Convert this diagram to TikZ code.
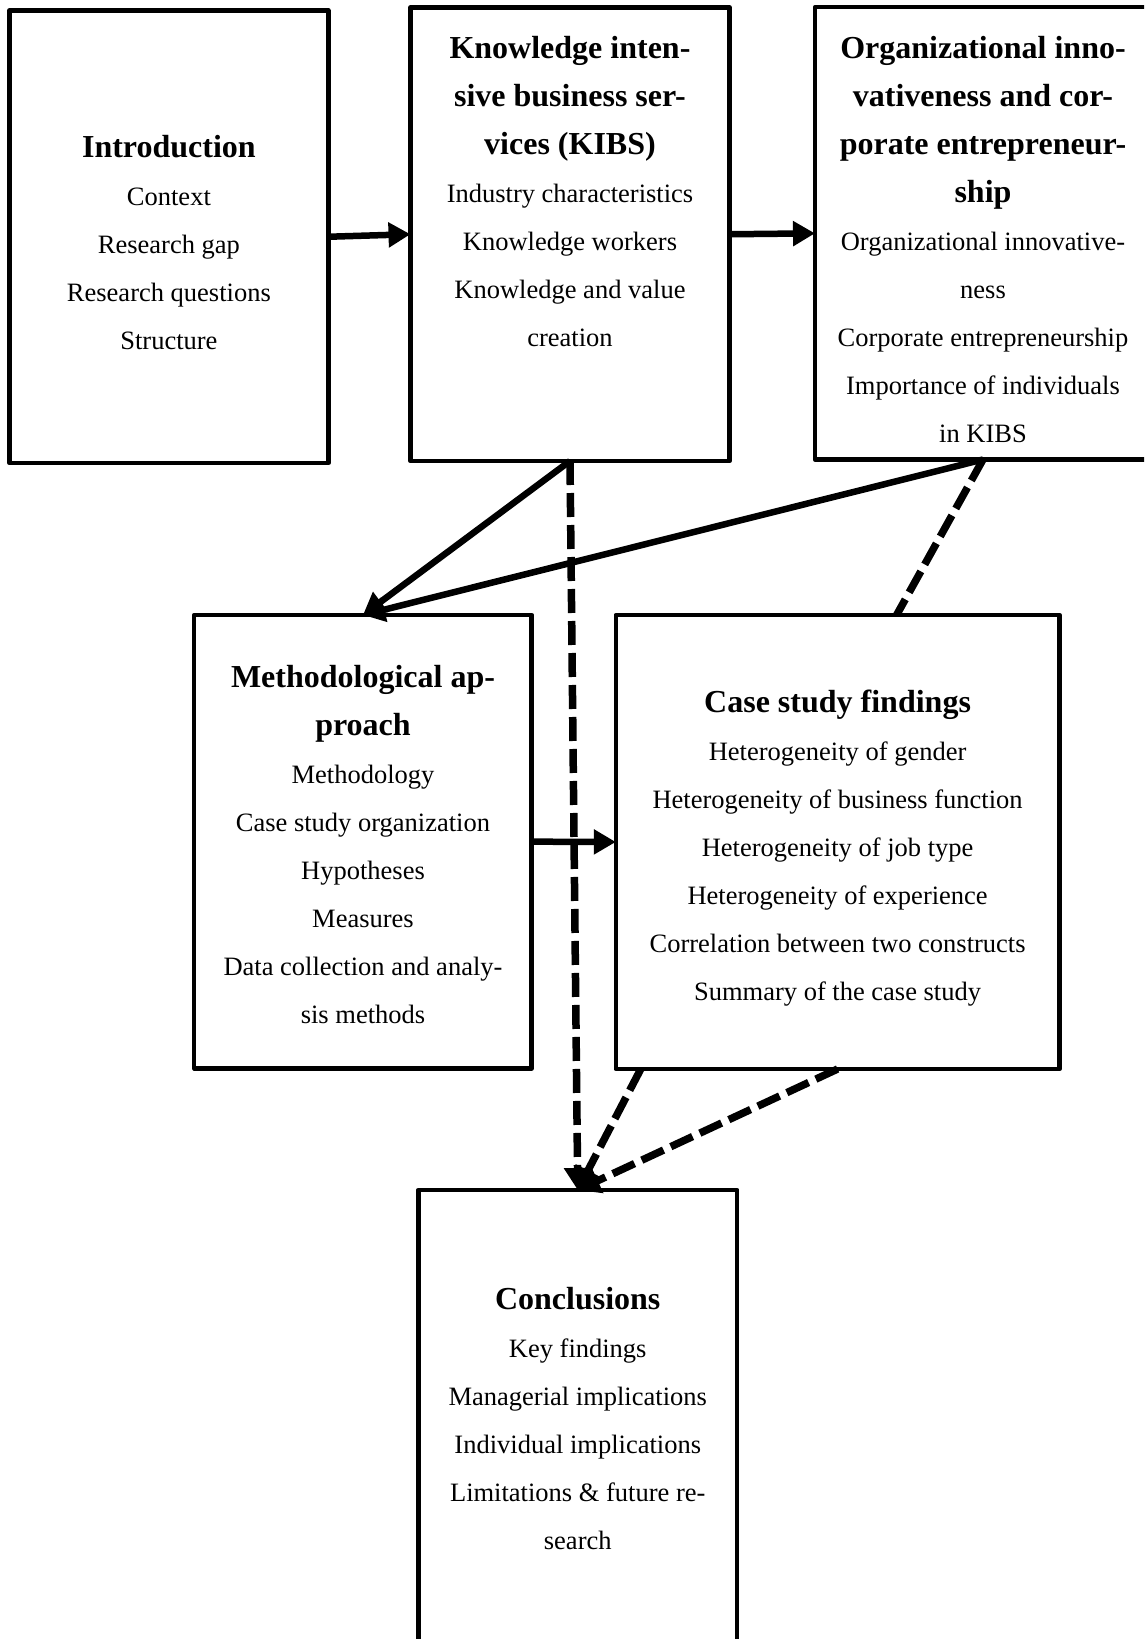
\documentclass[tikz,border=0pt]{standalone}
\usepackage{fontspec}
\setmainfont{Liberation Serif}
\usetikzlibrary{arrows.meta}
\newcommand{\chtitle}{\fontsize{32}{48}\selectfont\bfseries}
\newcommand{\chbody}{\fontsize{26.5}{48}\selectfont}
\newcommand{\chtext}[1]{\parbox[t]{440pt}{\centering\chbody #1}}
\tikzset{
  box/.style={draw, line width=4.5pt, line join=round, outer sep=0pt, inner sep=0pt, anchor=north west},
  txt/.style={anchor=base, inner sep=0pt, outer sep=0pt},
  flow/.style={line width=6.5pt, -{Triangle[length=22pt,width=24pt]}},
  dlink/.style={line width=7.5pt, dash pattern=on 24pt off 8pt},
  dflow/.style={dlink, -{Triangle[length=22pt,width=26pt]}},
}
\begin{document}
\begin{tikzpicture}[x=1pt,y=-1pt]
\path[use as bounding box, fill=white] (0,0) rectangle (1144,1639);
\clip (0,0) rectangle (1144,1639);

% chapter boxes
\node[box, minimum width=318.8pt, minimum height=452.5pt] (intro) at (9.5,10.5) {};
\node[box, minimum width=319pt,   minimum height=453.5pt] (kibs)  at (410.5,7.5) {};
\node[box, minimum width=336pt,   minimum height=452.3pt] (org)   at (815,7.2) {};
\node[box, minimum width=337.5pt, minimum height=453.3pt] (meth)  at (194.2,615) {};
\node[box, minimum width=443.6pt, minimum height=454pt]   (case)  at (615.8,615) {};
\node[box, minimum width=318.9pt, minimum height=520pt]   (concl) at (418.3,1190) {};

% chapter contents
\node[txt] (introtxt) at (168.9,157) {\chtext{{\chtitle Introduction\par}
  Context\\ Research gap\\ Research questions\\ Structure}};
\node[txt] (kibstxt) at (570,58) {\chtext{{\chtitle Knowledge inten-\\ sive business ser-\\ vices (KIBS)\par}
  Industry characteristics\\ Knowledge workers\\ Knowledge and value\\ creation}};
\node[txt] (orgtxt) at (983,58) {\chtext{{\chtitle Organizational inno-\\ vativeness and cor-\\ porate entrepreneur-\\ ship\par}
  Organizational innovative-\\ ness\\ Corporate entrepreneurship\\ Importance of individuals\\ in KIBS}};
\node[txt] (methtxt) at (363,687) {\chtext{{\chtitle Methodological ap-\\ proach\par}
  Methodology\\ Case study organization\\ Hypotheses\\ Measures\\ Data collection and analy-\\ sis methods}};
\node[txt] (casetxt) at (837.6,712) {\chtext{{\chtitle Case study findings\par}
  Heterogeneity of gender\\ Heterogeneity of business function\\ Heterogeneity of job type\\ Heterogeneity of experience\\ Correlation between two constructs\\ Summary of the case study}};
\node[txt] (concltxt) at (577.75,1309) {\chtext{{\chtitle Conclusions\par}
  Key findings\\ Managerial implications\\ Individual implications\\ Limitations \& future re-\\ search}};

% solid connectors
\draw[flow] (intro.east) -- (kibs.west);
\draw[flow] (kibs.east) -- (org.west);
\draw[flow] (kibs.south) -- (meth.north);
\draw[flow] (org.south) -- (meth.north);
\draw[flow] (meth.east) -- (case.west);

% dashed connectors
\draw[dflow] (kibs.south) -- (concl.north);
\draw[dlink] (org.south) -- ([xshift=59pt]case.north);
\draw[dflow] ([xshift=25pt]case.south west) -- (concl.north);
\draw[dflow] (case.south) -- (concl.north);
\end{tikzpicture}
\end{document}
